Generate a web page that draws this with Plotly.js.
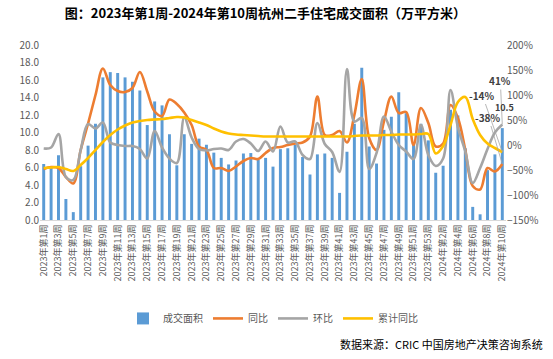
<!DOCTYPE html>
<html>
<head>
<meta charset="utf-8">
<script src="https://cdn.plot.ly/plotly-3.0.1.min.js"></script>
<style>html,body{margin:0;padding:0;background:#fff;}#chart{width:553px;height:359px;}</style>
</head>
<body>
<div id="chart"></div>
<script>
// categories: 2023 weeks 1-53, 2024 weeks 1-10
const weeks = [];
for (let i = 1; i <= 53; i++) weeks.push('2023年第' + i + '周');
for (let i = 1; i <= 10; i++) weeks.push('2024年第' + i + '周');

// 成交面积 (万平方米)
const area = [6.4, 6.0, 7.4, 2.4, 0.9, 6.15, 8.5, 11.0, 16.3, 16.9,
  16.8, 16.3, 15.8, 14.8, 10.85, 13.55, 13.1, 9.8, 6.25, 9.8,
  8.7, 9.3, 8.6, 7.7, 7.1, 6.35, 6.8, 7.6, 7.65, 6.9,
  7.1, 6.1, 8.1, 8.2, 8.6, 7.2, 5.2, 7.5, 7.6, 7.1,
  3.1, 7.8, 11.0, 17.4, 8.4, 6.45, 10.3, 11.8, 14.6, 12.2,
  8.8, 11.0, 9.1, 5.4, 6.2, 12.6, 11.95, 8.2, 1.5, 0.65,
  5.7, 7.5, 10.5];

// 同比 (%)
const yoy = [-48, -44, -46, -64, -77, -10, 43, 100, 153, 120,
  108, 106, 114, 146, 107, 67, 58, 91, 82, 65,
  40, -3, -10, -46, -46, -52, -43, -32, -26, -28,
  -16, -6, -4, 0, 3, 5, 17, 97, 20, 20,
  28, 5, 60, 132, 14, -10, 47, 97, 64, 66,
  0, 74, 44, -3, 3, 80, 54, -10, -82, -89,
  -46, -53, -38];

// 环比 (%)
const mom = [-7, -5, 22, -64, -70, -10, 42, 33, 45, 5,
  0, -2, -2, -8, -27, 28, -5, -27, -36, 55,
  15, -8, -11, -8, -7, -10, 7, 12, 3, -12,
  7, -13, 37, 5, 7, -20, -28, 44, 2, -14,
  -54, 152, 47, 54, -48, -16, 57, 27, 0, -13,
  -28, 40, -20, -42, -27, 110, 35, -13, -76, -46,
  -8, 25, 41];

// 累计同比 (%)
const cum = [-46, -45, -44, -48, -52, -40, -26, -10, 6, 20,
  31, 39, 45, 48, 50, 51, 52, 54, 56, 55,
  50, 45, 40, 33, 27, 23, 21, 20, 19, 18,
  17, 17, 17, 17, 17, 17, 17, 17, 17, 17,
  17, 17, 18, 19, 19, 19, 20, 20, 21, 21,
  21, 22, 22, -17, -2, 40, 86, 96, 52, 20,
  3, -6, -14];

// tick labels: every other week
const tickWeeks = weeks.filter((w, i) => i % 2 === 0);

const tickFont = {family: 'Noto Sans CJK SC, sans-serif', size: 9, color: '#595959'};
const n = weeks.length;
const last = weeks[n - 1];

const data = [
  {type: 'bar', name: '成交面积', x: weeks, y: area, marker: {color: '#5B9BD5'}, width: 0.4, yaxis: 'y'},
  {type: 'scatter', mode: 'lines', name: '同比', x: weeks, y: yoy, yaxis: 'y2',
   line: {color: '#ED7D31', width: 2.6, shape: 'spline', smoothing: 1}},
  {type: 'scatter', mode: 'lines', name: '环比', x: weeks, y: mom, yaxis: 'y2',
   line: {color: '#A5A5A5', width: 2.6, shape: 'spline', smoothing: 1}},
  {type: 'scatter', mode: 'lines', name: '累计同比', x: weeks, y: cum, yaxis: 'y2',
   line: {color: '#FFC000', width: 2.6, shape: 'spline', smoothing: 1}}
];

const lblFont = {family: 'Noto Sans CJK SC, sans-serif', size: 10, color: '#404040', weight: 'bold'};

const layout = {
  width: 553, height: 359,
  margin: {l: 40, r: 47, t: 45, b: 138.5, autoexpand: false},
  paper_bgcolor: '#fff', plot_bgcolor: '#fff',
  title: {text: '<b>图：2023年第1周-2024年第10周杭州二手住宅成交面积（万平方米）</b>',
    font: {family: 'Noto Sans CJK SC, sans-serif', size: 13, color: '#000'},
    x: 0.48, xanchor: 'center', xref: 'container', y: 0.963, yanchor: 'middle', yref: 'container'},
  showlegend: true,
  legend: {orientation: 'h', x: 0.5, xanchor: 'center', y: 0.113, yanchor: 'middle', yref: 'container',
    font: {family: 'Noto Sans CJK SC, sans-serif', size: 10, color: '#595959'},
    itemwidth: 30, tracegroupgap: 0},
  bargap: 0.5,
  xaxis: {type: 'category', range: [-0.5, n - 0.5], autorange: false, automargin: false,
    tickmode: 'array', tickvals: tickWeeks, ticktext: tickWeeks,
    tickangle: -90, tickfont: tickFont, showgrid: false, showline: true, linecolor: '#D9D9D9',
    linewidth: 1, ticks: '', zeroline: false},
  yaxis: {range: [0, 20], dtick: 2, tick0: 0, tickformat: '.1f', showgrid: false, zeroline: false,
    automargin: false, showline: false, ticks: '', tickfont: {family: 'Noto Sans CJK SC, sans-serif', size: 10, color: '#595959'}},
  yaxis2: {overlaying: 'y', side: 'right', range: [-150, 200], dtick: 50, tick0: 0, ticksuffix: '%',
    automargin: false, showgrid: false, zeroline: false, showline: false, ticks: '',
    tickfont: {family: 'Noto Sans CJK SC, sans-serif', size: 10, color: '#595959'}},
  annotations: [
    {x: last, y: mom[n - 1], xref: 'x', yref: 'y2', text: mom[n - 1] + '%', font: lblFont,
     showarrow: true, arrowhead: 0, arrowwidth: 0.8, arrowcolor: '#A5A5A5', ax: -2, ay: -44},
    {x: last, y: cum[n - 1], xref: 'x', yref: 'y2', text: cum[n - 1] + '%', font: lblFont,
     showarrow: true, arrowhead: 0, arrowwidth: 0.8, arrowcolor: '#A5A5A5', ax: -20, ay: -57},
    {x: last, y: yoy[n - 1], xref: 'x', yref: 'y2', text: yoy[n - 1] + '%', font: lblFont,
     showarrow: true, arrowhead: 0, arrowwidth: 0.8, arrowcolor: '#A5A5A5', ax: -14, ay: -47},
    {x: last, y: area[n - 1], xref: 'x', yref: 'y', text: area[n - 1].toFixed(1),
     font: {family: 'Noto Sans CJK SC, sans-serif', size: 9, color: '#404040', weight: 'bold'},
     borderpad: 0, showarrow: false, xanchor: 'left', yanchor: 'middle', xshift: -8, yshift: 21},
    {x: 1.0, y: -0.71, xref: 'paper', yref: 'paper', xanchor: 'right', yanchor: 'middle',
     text: '数据来源：CRIC 中国房地产决策咨询系统', showarrow: false, xshift: 39,
     font: {family: 'Noto Sans CJK SC, sans-serif', size: 11, color: '#000'}}
  ]
};

Plotly.newPlot('chart', data, layout, {displayModeBar: false, staticPlot: true});
</script>
</body>
</html>
